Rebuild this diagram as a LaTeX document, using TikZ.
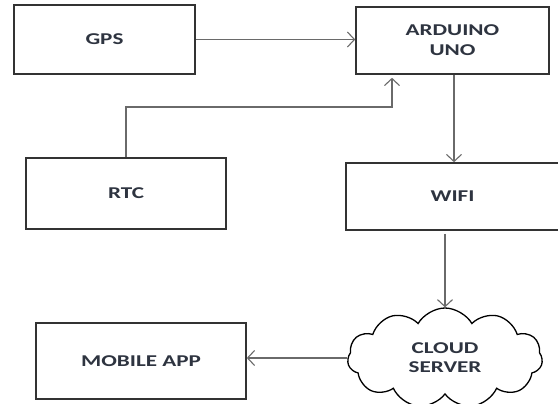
\documentclass[tikz,border=0pt]{standalone}
\usepackage{fontspec}
\setmainfont{Carlito}
\newfontfamily\labfont[FakeStretch=1.4]{Carlito}
\usetikzlibrary{shapes.symbols,arrows.meta}
\definecolor{boxline}{HTML}{333333}
\definecolor{conline}{HTML}{6A6A6A}
\definecolor{labtext}{HTML}{2E3440}
\tikzset{
  blk/.style={draw=boxline, line width=1.6pt, rectangle, inner sep=0pt, align=center,
    font=\labfont\bfseries\fontsize{16.5}{20}\selectfont, text=labtext},
  cloudbox/.style={draw=black, line width=1.3pt, cloud, cloud puffs=11, cloud puff arc=120,
    cloud ignores aspect, minimum width=195pt, minimum height=100pt, inner sep=0pt, align=center,
    font=\labfont\bfseries\fontsize{16.5}{19}\selectfont, text=labtext},
  conn/.style={draw=conline, line width=1.1pt, -{Straight Barb[length=7pt,width=15pt,line width=1.1pt]}}
}
\begin{document}
\begin{tikzpicture}[x=1pt,y=-1pt]
\useasboundingbox[fill=white] (0,0) rectangle (558,404);
\node[blk, minimum width=181pt, minimum height=69pt] (gps) at (104.5,39.5) {GPS};
\node[blk, minimum width=193pt, minimum height=67pt] (ard) at (452.5,40.5) {ARDUINO\\UNO};
\node[blk, minimum width=200pt, minimum height=71pt] (rtc) at (126,193.5) {RTC};
\node[blk, minimum width=213pt, minimum height=67pt] (wifi) at (452.5,196.5) {WIFI};
\node[blk, minimum width=210pt, minimum height=76pt] (mob) at (141,361) {MOBILE APP};
\node[cloudbox] (cld) at (445,358) {CLOUD\\SERVER};
\coordinate (bend) at (392,107);
\draw[conn] (gps.east) -- (gps.east -| ard.west);
\draw[conn, shorten >=3pt] (rtc.north) |- (bend) -- (bend |- ard.south);
\draw[conn] ([xshift=1.5pt]ard.south) -- ([xshift=1.5pt]ard.south |- wifi.north);
\draw[conn, shorten <=3pt] (wifi.south -| cld.north) -- (cld.north);
\draw[conn] (cld.west) -- (cld.west -| mob.east);
\end{tikzpicture}
\end{document}
